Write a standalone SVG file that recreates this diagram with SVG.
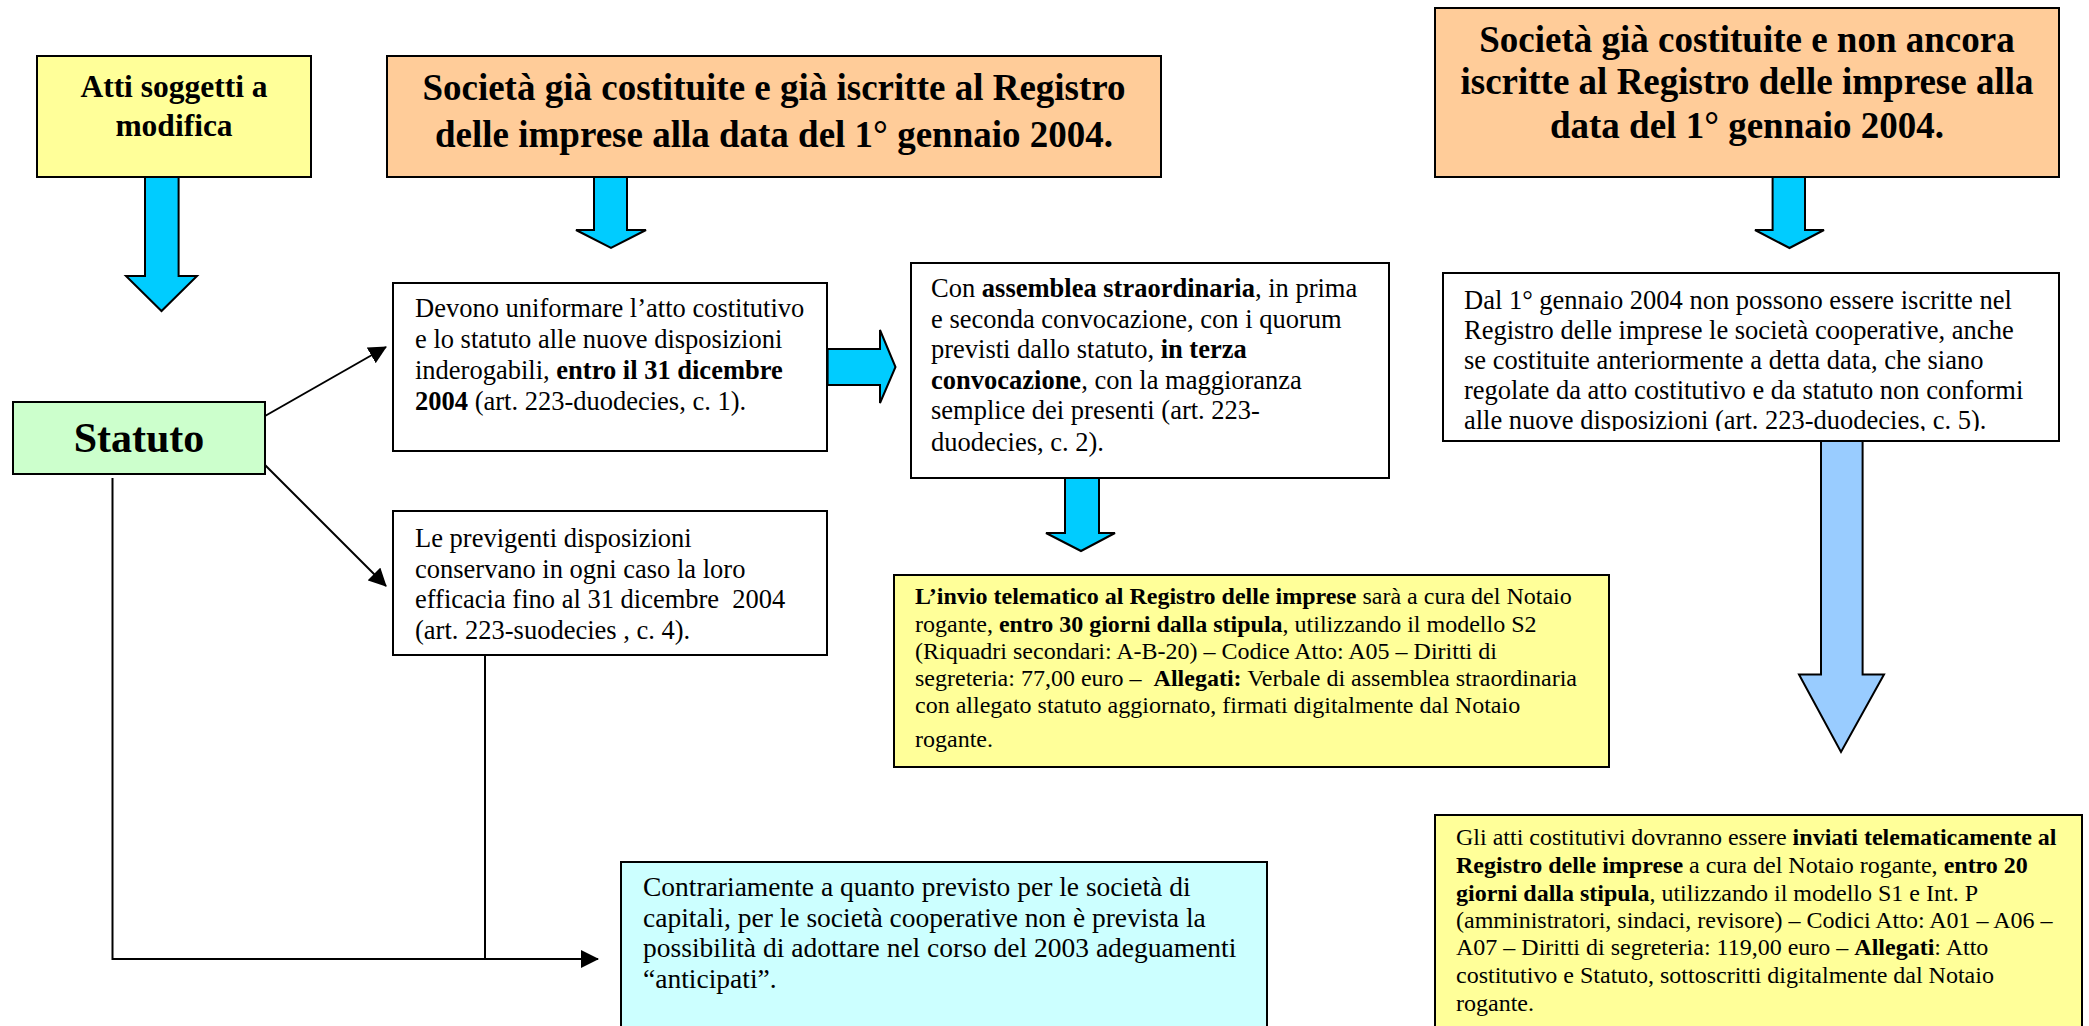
<svg xmlns="http://www.w3.org/2000/svg" width="2089" height="1026" viewBox="0 0 2089 1026">
<defs>
<style>
.box{stroke:#000;stroke-width:2}
.y{fill:#FFFF99}.o{fill:#FFCC99}.g{fill:#CCFFCC}.w{fill:#FFFFFF}.c{fill:#CCFFFF}
.t{font-family:"Liberation Serif","Times New Roman",serif;fill:#000}
.b{font-weight:bold}
.f26{font-size:26.5px}.f24{font-size:24px}.f27{font-size:27.5px}
.ttl{font-size:37px;font-weight:bold;text-anchor:middle}
.blk{fill:#00CCFF;stroke:#000;stroke-width:2;stroke-linejoin:miter}
.lb{fill:#99CCFF}
.ln{fill:none;stroke:#000;stroke-width:2}
</style>
<marker id="ah" viewBox="0 0 18 18" refX="17" refY="9" markerWidth="18" markerHeight="18" markerUnits="userSpaceOnUse" orient="auto"><path d="M0,0 L18,9 L0,18 z" fill="#000"/></marker>
<clipPath id="dalclip"><rect x="1443" y="273" width="616" height="158"/></clipPath>
</defs>
<rect width="2089" height="1026" fill="#FFFFFF"/>

<g id="connectors">
  <polygon class="blk" points="145,177 178.6,177 178.6,276 197,276 161.5,311 126,276 145,276"/>
  <polygon class="blk" points="594,177 627,177 627,230 646,230 611,248 576,230 594,230"/>
  <polygon class="blk" points="1772.6,177 1805,177 1805,230 1824,230 1789.5,248 1755,230 1772.6,230"/>
  <polygon class="blk" points="827.6,349 880,349 880,330 895.5,367 880,403 880,385 827.6,385"/>
  <polygon class="blk" points="1065,478 1099,478 1099,533 1115,533 1081,551 1046,533 1065,533"/>
  <polygon class="blk lb" points="1821,440 1862.6,440 1862.6,674.6 1884,674.6 1841,752 1799,674.6 1821,674.6"/>
  <line class="ln" x1="265" y1="416" x2="386" y2="347" marker-end="url(#ah)"/>
  <line class="ln" x1="265" y1="465" x2="386" y2="586" marker-end="url(#ah)"/>
  <path class="ln" d="M112.5,478 V959 H598" marker-end="url(#ah)"/>
  <path class="ln" d="M485,655 V959"/>
</g>

<g id="atti">
  <rect class="box y" x="37" y="56" width="274" height="121"/>
  <text class="t b" font-size="31.5" text-anchor="middle" x="174" y="97">Atti soggetti a</text>
  <text class="t b" font-size="31.5" text-anchor="middle" x="174" y="136">modifica</text>
</g>

<g id="titolo-iscritte">
  <rect class="box o" x="387" y="56" width="774" height="121"/>
  <text class="t ttl" x="774" y="100">Società già costituite e già iscritte al Registro</text>
  <text class="t ttl" x="774" y="147">delle imprese alla data del 1° gennaio 2004.</text>
</g>

<g id="titolo-non-iscritte">
  <rect class="box o" x="1435" y="8" width="624" height="169"/>
  <text class="t ttl" x="1747" y="52">Società già costituite e non ancora</text>
  <text class="t ttl" x="1747" y="94">iscritte al Registro delle imprese alla</text>
  <text class="t ttl" x="1747" y="138">data del 1° gennaio 2004.</text>
</g>

<g id="statuto">
  <rect class="box g" x="13" y="402" width="252" height="72"/>
  <text class="t b" font-size="42" text-anchor="middle" x="139" y="452">Statuto</text>
</g>

<g id="devono">
  <rect class="box w" x="393" y="283" width="434" height="168"/>
  <text class="t f26" x="415" y="317">Devono uniformare l’atto costitutivo</text>
  <text class="t f26" x="415" y="348">e lo statuto alle nuove disposizioni</text>
  <text class="t f26" x="415" y="379">inderogabili, <tspan class="b">entro il 31 dicembre</tspan></text>
  <text class="t f26" x="415" y="410"><tspan class="b">2004</tspan> (art. 223-duodecies, c. 1).</text>
</g>

<g id="previgenti">
  <rect class="box w" x="393" y="511" width="434" height="144"/>
  <text class="t f26" x="415" y="547">Le previgenti disposizioni</text>
  <text class="t f26" x="415" y="577.5">conservano in ogni caso la loro</text>
  <text class="t f26" x="415" y="608" xml:space="preserve">efficacia fino al 31 dicembre  2004</text>
  <text class="t f26" x="415" y="638.5">(art. 223-suodecies , c. 4).</text>
</g>

<g id="assemblea">
  <rect class="box w" x="911" y="263" width="478" height="215"/>
  <text class="t f26" x="931" y="297">Con <tspan class="b">assemblea straordinaria</tspan>, in prima</text>
  <text class="t f26" x="931" y="327.5">e seconda convocazione, con i quorum</text>
  <text class="t f26" x="931" y="358">previsti dallo statuto, <tspan class="b">in terza</tspan></text>
  <text class="t f26" x="931" y="388.5"><tspan class="b">convocazione</tspan>, con la  maggioranza</text>
  <text class="t f26" x="931" y="419">semplice dei presenti (art. 223-</text>
  <text class="t f26" x="931" y="451">duodecies, c. 2).</text>
</g>

<g id="invio">
  <rect class="box y" x="894" y="575" width="715" height="192"/>
  <text class="t f24" x="915" y="604"><tspan class="b">L’invio telematico al Registro delle imprese</tspan> sarà a cura del Notaio</text>
  <text class="t f24" x="915" y="632">rogante, <tspan class="b">entro 30 giorni dalla stipula</tspan>, utilizzando il modello S2</text>
  <text class="t f24" x="915" y="659">(Riquadri secondari: A-B-20) – Codice Atto: A05 – Diritti di</text>
  <text class="t f24" x="915" y="686" xml:space="preserve">segreteria: 77,00 euro –  <tspan class="b">Allegati:</tspan> Verbale di assemblea straordinaria</text>
  <text class="t f24" x="915" y="713">con allegato statuto aggiornato, firmati digitalmente dal Notaio</text>
  <text class="t f24" x="915" y="747">rogante.</text>
</g>

<g id="dal-2004">
  <rect class="box w" x="1443" y="273" width="616" height="168"/>
  <g clip-path="url(#dalclip)">
    <text class="t f26" x="1464" y="309">Dal 1° gennaio 2004 non possono essere iscritte nel</text>
    <text class="t f26" x="1464" y="339">Registro delle imprese le società cooperative, anche</text>
    <text class="t f26" x="1464" y="369">se costituite anteriormente a detta data, che siano</text>
    <text class="t f26" x="1464" y="399">regolate da atto costitutivo e da statuto non conformi</text>
    <text class="t f26" x="1464" y="429">alle nuove disposizioni (art. 223-duodecies, c. 5).</text>
  </g>
</g>

<g id="contrariamente">
  <rect class="box c" x="621" y="862" width="646" height="180"/>
  <text class="t f27" x="643" y="896">Contrariamente a quanto previsto per le società di</text>
  <text class="t f27" x="643" y="926.5">capitali, per le società cooperative non è prevista la</text>
  <text class="t f27" x="643" y="957">possibilità di adottare nel corso del 2003 adeguamenti</text>
  <text class="t f27" x="643" y="988">“anticipati”.</text>
</g>

<g id="atti-costitutivi">
  <rect class="box y" x="1435" y="815" width="647" height="230"/>
  <text class="t f24" x="1456" y="845">Gli atti costitutivi dovranno essere <tspan class="b">inviati telematicamente al</tspan></text>
  <text class="t f24" x="1456" y="873"><tspan class="b">Registro delle imprese</tspan> a cura del Notaio rogante, <tspan class="b">entro 20</tspan></text>
  <text class="t f24" x="1456" y="901"><tspan class="b">giorni dalla stipula</tspan>, utilizzando il modello S1 e Int. P</text>
  <text class="t f24" x="1456" y="928">(amministratori, sindaci, revisore) – Codici Atto: A01 – A06 –</text>
  <text class="t f24" x="1456" y="955">A07 – Diritti di segreteria: 119,00 euro – <tspan class="b">Allegati</tspan>: Atto</text>
  <text class="t f24" x="1456" y="983">costitutivo e Statuto, sottoscritti digitalmente dal Notaio</text>
  <text class="t f24" x="1456" y="1011">rogante.</text>
</g>
</svg>
